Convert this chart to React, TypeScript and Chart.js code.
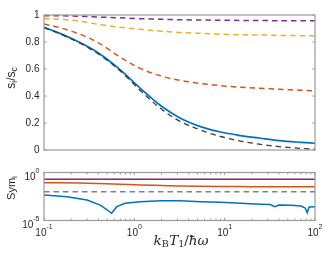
import React, { useEffect, useRef } from "react";
import { Chart, registerables } from "chart.js";

Chart.register(...registerables);

// ---------- data ----------
const xGrid = [0.1, 0.15, 0.25, 0.4, 0.7, 1.15, 2, 3.2, 5.4, 9, 15, 25, 40, 70, 100];
const sPurple = [0.995, 0.994, 0.991, 0.985, 0.979, 0.973, 0.968, 0.965, 0.963, 0.961, 0.96, 0.959, 0.958, 0.958, 0.958];
const sYellow = [0.975, 0.968, 0.955, 0.93, 0.909, 0.894, 0.88, 0.871, 0.864, 0.858, 0.854, 0.852, 0.849, 0.847, 0.846];
const sOrange = [0.933, 0.906, 0.858, 0.794, 0.688, 0.606, 0.547, 0.516, 0.493, 0.477, 0.465, 0.457, 0.45, 0.443, 0.437];
const sBlue = [0.909, 0.864, 0.796, 0.719, 0.594, 0.461, 0.324, 0.237, 0.173, 0.133, 0.107, 0.087, 0.07, 0.057, 0.05];
const sBlack = [0.905, 0.86, 0.792, 0.712, 0.585, 0.445, 0.302, 0.212, 0.148, 0.1, 0.066, 0.042, 0.025, 0.012, 0.007];

const xEnds = [0.1, 100];
const symPurple = [0.204, 0.204];
const symYellow = [0.19, 0.188];
const symGray = [0.01, 0.01];
const symOrange = [0.0871, 0.0851, 0.0794, 0.0708, 0.0603, 0.0501, 0.0437, 0.0389, 0.0363, 0.0347, 0.0339, 0.0331, 0.0331, 0.0331, 0.0331];
const xSymBlue = [0.1, 0.18, 0.3, 0.42, 0.49, 0.56, 0.64, 0.79, 1.15, 2, 3.2, 5.4, 9, 15, 25, 32, 36, 40, 55, 70, 78, 82, 86, 100];
const symBlue = [4.57e-3, 3.02e-3, 1.38e-3, 4.07e-4, 1.48e-4, 5.6e-5, 2.75e-4, 6.31e-4, 9.12e-4, 1.15e-3, 1.15e-3, 9.12e-4, 7.94e-4, 6.31e-4, 5.01e-4, 4.68e-4, 2.82e-4, 4.17e-4, 3.8e-4, 3.16e-4, 2.0e-4, 6.3e-5, 2.51e-4, 2.75e-4];

// ---------- ticks ----------
const xMajor = [0.1, 1, 10, 100];
const xMajorExp = ["-1", "0", "1", "2"];
const xMinor = [0.2, 0.3, 0.4, 0.5, 0.6, 0.7, 0.8, 0.9, 2, 3, 4, 5, 6, 7, 8, 9, 20, 30, 40, 50, 60, 70, 80, 90];
const topYTicks = [0, 0.2, 0.4, 0.6, 0.8, 1];
const topYLabels = ["0", "0.2", "0.4", "0.6", "0.8", "1"];
const symYTicks = [1e-5, 1];
const symYExp = ["-5", "0"];

const PURPLE = "#7E2F8E";
const YELLOW = "#EDB120";
const ORANGE = "#D95319";
const BLUE = "#0072BD";
const AXIS = "#9a9a9a";
const TEXT = "#262626";
const SANS = "'Liberation Sans', Arial, sans-serif";
const SERIF = "'DejaVu Serif', 'Liberation Serif', serif";

type Seg = { text: string; font: string; dy?: number; gap?: number };

function drawSeq(ctx: CanvasRenderingContext2D, segs: Seg[], x: number, y: number, align: "left" | "center" | "right") {
  let total = 0;
  const widths: number[] = [];
  for (const s of segs) {
    ctx.font = s.font;
    const w = ctx.measureText(s.text).width + (s.gap || 0);
    widths.push(w);
    total += w;
  }
  let cx = align === "left" ? x : align === "center" ? x - total / 2 : x - total;
  ctx.textAlign = "left";
  ctx.textBaseline = "middle";
  segs.forEach((s, i) => {
    ctx.font = s.font;
    ctx.fillText(s.text, cx, y + (s.dy || 0));
    cx += widths[i];
  });
}

function powSegs(exp: string): Seg[] {
  return [
    { text: "10", font: `10px ${SANS}`, dy: 3.5 },
    { text: exp, font: `7px ${SANS}`, dy: -2.5 },
  ];
}

function drawBox(chart: any) {
  const { ctx, chartArea: a } = chart;
  ctx.save();
  ctx.strokeStyle = AXIS;
  ctx.lineWidth = 1.2;
  ctx.strokeRect(a.left, a.top, a.right - a.left, a.bottom - a.top);
  ctx.restore();
}

function xTickMarks(chart: any, vals: number[], len: number) {
  const { ctx, chartArea: a } = chart;
  const xs = chart.scales.x;
  ctx.save();
  ctx.strokeStyle = AXIS;
  ctx.lineWidth = 1;
  ctx.beginPath();
  for (const v of vals) {
    const px = xs.getPixelForValue(v);
    ctx.moveTo(px, a.bottom);
    ctx.lineTo(px, a.bottom - len);
    ctx.moveTo(px, a.top);
    ctx.lineTo(px, a.top + len);
  }
  ctx.stroke();
  ctx.restore();
}

function yTickMarks(chart: any, vals: number[], len: number) {
  const { ctx, chartArea: a } = chart;
  const ys = chart.scales.y;
  ctx.save();
  ctx.strokeStyle = AXIS;
  ctx.lineWidth = 1;
  ctx.beginPath();
  for (const v of vals) {
    const py = ys.getPixelForValue(v);
    ctx.moveTo(a.left, py);
    ctx.lineTo(a.left + len, py);
    ctx.moveTo(a.right, py);
    ctx.lineTo(a.right - len, py);
  }
  ctx.stroke();
  ctx.restore();
}

const topAxesPlugin = {
  id: "topAxes",
  afterDatasetsDraw(chart: any) {
    const { ctx, chartArea: a } = chart;
    drawBox(chart);
    yTickMarks(chart, topYTicks, 2.7);
    ctx.save();
    ctx.fillStyle = TEXT;
    ctx.font = `10px ${SANS}`;
    ctx.textAlign = "right";
    ctx.textBaseline = "middle";
    topYTicks.forEach((v, i) => {
      ctx.fillText(topYLabels[i], a.left - 4.5, chart.scales.y.getPixelForValue(v) + 0.5);
    });
    // y title s_i/s_c
    ctx.translate(12, 78);
    ctx.rotate(-Math.PI / 2);
    drawSeq(
      ctx,
      [
        { text: "s", font: `12px ${SANS}` },
        { text: "i", font: `8.5px ${SANS}`, dy: 3 },
        { text: "/s", font: `12px ${SANS}` },
        { text: "c", font: `8.5px ${SANS}`, dy: 3 },
      ],
      0,
      0,
      "center"
    );
    ctx.restore();
  },
};

const symAxesPlugin = {
  id: "symAxes",
  afterDatasetsDraw(chart: any) {
    const { ctx, chartArea: a } = chart;
    drawBox(chart);
    xTickMarks(chart, xMajor, 2.7);
    xTickMarks(chart, xMinor, 2);
    ctx.save();
    ctx.fillStyle = TEXT;
    xMajor.forEach((v, i) => {
      drawSeq(ctx, powSegs(xMajorExp[i]), chart.scales.x.getPixelForValue(v), a.bottom + 9.5, "center");
    });
    symYTicks.forEach((v, i) => {
      drawSeq(ctx, powSegs(symYExp[i]), a.left - 4.5, chart.scales.y.getPixelForValue(v) + 1, "right");
    });
    // x title k_B T_1 / ħω
    drawSeq(
      ctx,
      [
        { text: "k", font: `italic 13.5px ${SERIF}` },
        { text: "B", font: `9.5px ${SERIF}`, dy: 3, gap: 0.5 },
        { text: "T", font: `italic 13.5px ${SERIF}` },
        { text: "1", font: `9.5px ${SERIF}`, dy: 3 },
        { text: "/", font: `13.5px ${SERIF}` },
        { text: "ħω", font: `italic 13.5px ${SERIF}` },
      ],
      (a.left + a.right) / 2 + 1.5,
      a.bottom + 21,
      "center"
    );
    // y title Sym_i
    ctx.translate(12, 28);
    ctx.rotate(-Math.PI / 2);
    drawSeq(
      ctx,
      [
        { text: "Sym", font: `11px ${SANS}` },
        { text: "i", font: `8px ${SANS}`, dy: 3 },
      ],
      0,
      0,
      "center"
    );
    ctx.restore();
  },
};

function pts(xs: number[], ys: number[]) {
  return xs.map((x, i) => ({ x, y: ys[i] }));
}

const DASH = [5.5, 4];

export default function App() {
  const topRef = useRef<HTMLCanvasElement>(null);
  const botRef = useRef<HTMLCanvasElement>(null);

  useEffect(() => {
    const common = {
      animation: false as const,
      responsive: false,
      maintainAspectRatio: false,
      devicePixelRatio: 1,
      plugins: { legend: { display: false }, tooltip: { enabled: false }, title: { display: false } },
      elements: { point: { radius: 0 } },
    };

    const top = new Chart(topRef.current!, {
      type: "line",
      data: {
        datasets: [
          { data: pts(xGrid, sBlack), borderColor: "#3a3a3a", borderWidth: 1.3, borderDash: DASH, cubicInterpolationMode: "monotone" },
          { data: pts(xGrid, sBlue), borderColor: BLUE, borderWidth: 1.7, cubicInterpolationMode: "monotone" },
          { data: pts(xGrid, sOrange), borderColor: ORANGE, borderWidth: 1.5, borderDash: DASH, cubicInterpolationMode: "monotone" },
          { data: pts(xGrid, sYellow), borderColor: YELLOW, borderWidth: 1.5, borderDash: DASH, cubicInterpolationMode: "monotone" },
          { data: pts(xGrid, sPurple), borderColor: PURPLE, borderWidth: 1.5, borderDash: DASH, cubicInterpolationMode: "monotone" },
        ] as any,
      },
      options: {
        ...common,
        layout: { padding: { left: 44, right: 18, top: 15, bottom: 10 } },
        scales: {
          x: { type: "logarithmic", min: 0.1, max: 100, display: false },
          y: { type: "linear", min: 0, max: 1, display: false },
        },
      } as any,
      plugins: [topAxesPlugin],
    });

    const bot = new Chart(botRef.current!, {
      type: "line",
      data: {
        datasets: [
          { data: pts(xSymBlue, symBlue), borderColor: BLUE, borderWidth: 1.5 },
          { data: pts(xEnds, symGray), borderColor: "#808080", borderWidth: 1.5, borderDash: DASH },
          { data: pts(xGrid, symOrange), borderColor: ORANGE, borderWidth: 1.5, cubicInterpolationMode: "monotone" },
          { data: pts(xEnds, symPurple), borderColor: PURPLE, borderWidth: 1.5 },
          { data: pts(xEnds, symYellow), borderColor: YELLOW, borderWidth: 1.2 },
        ] as any,
      },
      options: {
        ...common,
        layout: { padding: { left: 44, right: 18, top: 12.5, bottom: 40.5 } },
        scales: {
          x: { type: "logarithmic", min: 0.1, max: 100, display: false },
          y: { type: "logarithmic", min: 1e-5, max: 1, display: false },
        },
      } as any,
      plugins: [symAxesPlugin],
    });

    return () => {
      top.destroy();
      bot.destroy();
    };
  }, []);

  return (
    <div style={{ position: "absolute", left: 0, top: 0, width: 333, height: 261, background: "#fff" }}>
      <canvas ref={topRef} width={333} height={160} style={{ position: "absolute", left: 0, top: 0, width: 333, height: 160 }} />
      <canvas ref={botRef} width={333} height={101} style={{ position: "absolute", left: 0, top: 160, width: 333, height: 101 }} />
    </div>
  );
}
